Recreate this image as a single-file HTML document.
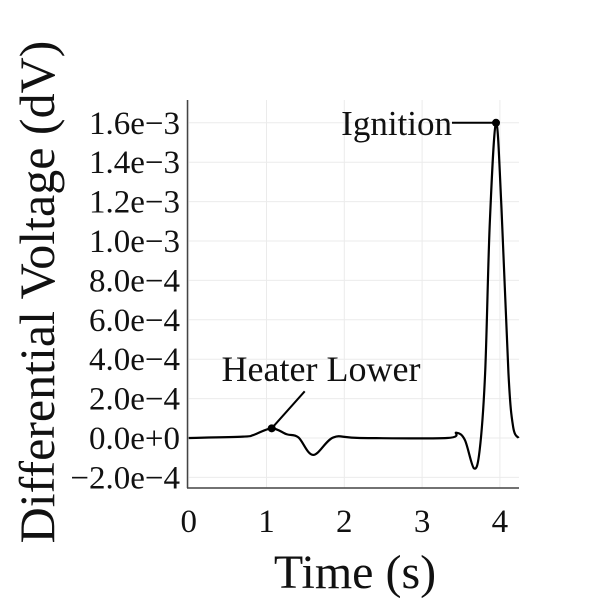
<!DOCTYPE html>
<html><head><meta charset="utf-8"><style>
body{margin:0;background:#fff}
svg text{font-family:"Liberation Serif",serif;fill:#111}
</style></head><body>
<svg width="600" height="600" xmlns="http://www.w3.org/2000/svg">
<g id="grid"></g>
<g id="ticks"></g>
<line x1="187.5" y1="100" x2="187.5" y2="488" stroke="#444" stroke-width="1.5"/>
<line x1="187" y1="488" x2="519" y2="488" stroke="#444" stroke-width="1.5"/>
<path id="line" fill="none" stroke="#000" stroke-width="2.2"/>
<g id="ann"></g>
<text x="355" y="588" font-size="48" text-anchor="middle">Time (s)</text>
<text transform="translate(54,292) rotate(-90)" font-size="50" text-anchor="middle">Differential Voltage (dV)</text>
</svg>
<script>
const times=[0,0.70,0.83,1.067,1.26,1.41,1.60,1.86,2.2,3.32,3.44,3.55,3.667,3.74,3.81,3.87,3.95,4.02,4.11,4.17,4.24];
const volts=[0,0.07e-4,0.15e-4,0.49e-4,0.19e-4,0.03e-4,-0.86e-4,0.03e-4,0,0,0.27e-4,-0.1e-4,-1.54e-4,-0.61e-4,3.28e-4,10.9e-4,16e-4,11.7e-4,3.28e-4,0.57e-4,0];
const xTicks=[0,1,2,3,4];
const yTicks=[-2e-4,0,2e-4,4e-4,6e-4,8e-4,10e-4,12e-4,14e-4,16e-4];
const yTickLabels=["\u22122.0e\u22124","0.0e+0","2.0e\u22124","4.0e\u22124","6.0e\u22124","8.0e\u22124","1.0e\u22123","1.2e\u22123","1.4e\u22123","1.6e\u22123"];
const annLabels=["Heater Lower","Ignition"];
const annIdx=[3,16];
const X=t=>188.7+t*77.8;
const Y=v=>438-v/2e-4*39.4;
const NS="http://www.w3.org/2000/svg";
const grid=document.getElementById('grid'),tk=document.getElementById('ticks'),ann=document.getElementById('ann');
function mk(tag,attrs,parent){const e=document.createElementNS(NS,tag);for(const k in attrs)e.setAttribute(k,attrs[k]);parent.appendChild(e);return e;}
xTicks.forEach(t=>{
 const l=mk('line',{x1:X(t),x2:X(t),y1:100,y2:488,stroke:'#ebebeb','stroke-width':1},grid);
 
 
 const s=mk('text',{x:X(t),y:532,'font-size':33,'text-anchor':'middle'},tk);s.textContent=t;
 
 
});
yTicks.forEach((v,i)=>{
 const l=mk('line',{x1:187,x2:519,y1:Y(v),y2:Y(v),stroke:'#ebebeb','stroke-width':1},grid);
 
 
 const s=mk('text',{x:180,y:Y(v)+11,'font-size':33,'text-anchor':'end'},tk);s.textContent=yTickLabels[i];
 
 
});
const P=times.map((t,i)=>[X(t),Y(volts[i])]);
let d='M'+P[0][0]+','+P[0][1];
for(let i=0;i<P.length-1;i++){
 const p0=P[Math.max(0,i-1)],p1=P[i],p2=P[i+1],p3=P[Math.min(P.length-1,i+2)];
 const c1=[p1[0]+(p2[0]-p0[0])/6,p1[1]+(p2[1]-p0[1])/6],c2=[p2[0]-(p3[0]-p1[0])/6,p2[1]-(p3[1]-p1[1])/6];
 d+=` C${c1[0]},${c1[1]} ${c2[0]},${c2[1]} ${p2[0]},${p2[1]}`;
}
document.getElementById('line').setAttribute('d',d);
{const i=annIdx[0],px=X(times[i]),py=Y(volts[i]);
 mk('line',{x1:px,y1:py,x2:px+33,y2:py-37,stroke:'#000','stroke-width':2},ann);
 const c=mk('circle',{cx:px,cy:py,r:4,fill:'#000'},ann);
 
 
 const s=mk('text',{x:321,y:381,'font-size':36,'text-anchor':'middle'},ann);s.textContent=annLabels[0];
 
 }
{const i=annIdx[1],px=X(times[i]),py=Y(volts[i]);
 mk('line',{x1:px,y1:py,x2:452,y2:py,stroke:'#000','stroke-width':2},ann);
 const c=mk('circle',{cx:px,cy:py,r:4,fill:'#000'},ann);
 
 
 const s=mk('text',{x:452,y:py+12,'font-size':35,'text-anchor':'end'},ann);s.textContent=annLabels[1];
 
 }
</script>
</body></html>
